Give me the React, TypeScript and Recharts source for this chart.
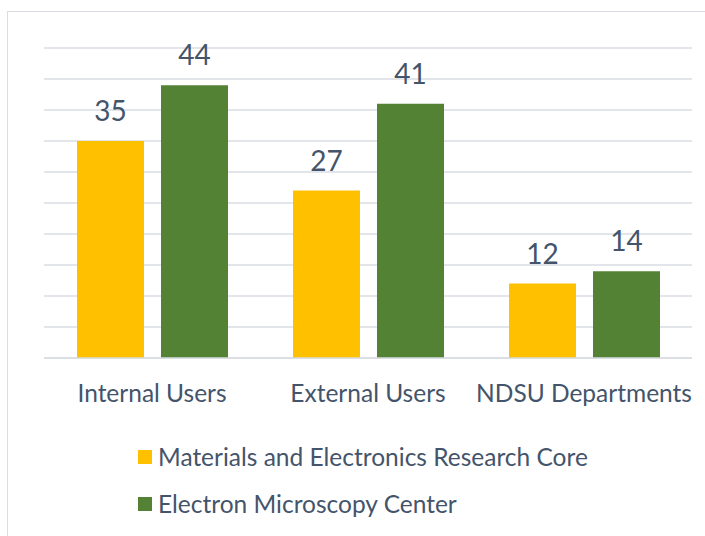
import { BarChart, Bar, XAxis, YAxis, CartesianGrid, LabelList } from 'recharts';

const categories = ['Internal Users', 'External Users', 'NDSU Departments'];
const materialsCore = [35, 27, 12];
const microscopyCenter = [44, 41, 14];
const yTicks = [0, 5, 10, 15, 20, 25, 30, 35, 40, 45, 50];

const seriesNames = ['Materials and Electronics Research Core', 'Electron Microscopy Center'];
const colors = ['#FFC000', '#548235'];

const data = categories.map((name, i) => ({
  name,
  mrc: materialsCore[i],
  emc: microscopyCenter[i],
}));

const textColor = '#44546A';
const font = 'Lato, "Open Sans", sans-serif';

const LegendBox = () => (
  <div
    style={{
      position: 'absolute',
      left: 138,
      top: 433,
      fontFamily: font,
      fontSize: 24.5,
      color: textColor,
    }}
  >
    {seriesNames.map((n, i) => (
      <div key={n} style={{ display: 'flex', alignItems: 'center', height: 47, whiteSpace: 'nowrap' }}>
        <span style={{ width: 14, height: 14, background: colors[i], marginRight: 6, display: 'inline-block' }} />
        <span>{n}</span>
      </div>
    ))}
  </div>
);

const App = () => {
  return (
    <div style={{ position: 'absolute', left: 0, top: 0, width: 705, height: 536, overflow: 'hidden', background: '#fff' }}>
      <div
        style={{
          position: 'absolute',
          left: 7,
          top: 11,
          width: 760,
          height: 600,
          border: '1.5px solid #D9DDE3',
        }}
      />
      <div style={{ position: 'absolute', left: 0, top: 0 }}>
        <BarChart
          width={705}
          height={536}
          data={data}
          margin={{ top: 48, right: 13, left: 44, bottom: 128 }}
          barCategoryGap={33}
          barGap={17}
        >
          <CartesianGrid vertical={false} stroke="#D9DDE3" strokeWidth={1.5} />
          <XAxis
            dataKey="name"
            axisLine={{ stroke: '#D9DDE3', strokeWidth: 1.5 }}
            tickLine={false}
            tickMargin={21}
            height={50}
            tick={{ fill: textColor, fontSize: 24.5, fontFamily: font }}
            interval={0}
          />
          <YAxis hide domain={[0, 50]} ticks={yTicks} interval={0} />
          <Bar dataKey="mrc" fill={colors[0]} isAnimationActive={false}>
            <LabelList dataKey="mrc" position="top" offset={20} fill={textColor} fontSize={28} fontFamily={font} />
          </Bar>
          <Bar dataKey="emc" fill={colors[1]} isAnimationActive={false}>
            <LabelList dataKey="emc" position="top" offset={20} fill={textColor} fontSize={28} fontFamily={font} />
          </Bar>
        </BarChart>
      </div>
      <LegendBox />
    </div>
  );
};

export default App;
